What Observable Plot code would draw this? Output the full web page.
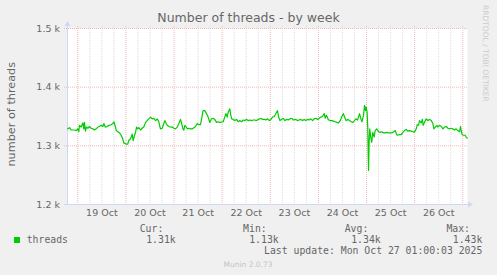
<!DOCTYPE html>
<html><head><meta charset="utf-8">
<script src="https://cdn.jsdelivr.net/npm/d3@7"></script>
<script src="https://cdn.jsdelivr.net/npm/@observablehq/plot@0.6"></script>
<style>
html,body{margin:0;padding:0;background:#f0f0f0;}
#chart svg{display:block;}
</style></head><body><div id="chart"></div>
<script>
const title = "Number of threads - by week";
const yLabel = "number of threads";
const seriesName = "threads";
// hours relative to 19 Oct 00:00
const hoursFrom19Oct = [-5.0,-4.1,-3.3,-1.6,-0.8,0,0.5,0.8,1.7,2.5,3.0,3.3,3.8,4.3,5.0,5.8,6.7,7.5,8.3,9.2,10.0,10.8,11.7,12.5,13.0,13.7,14.7,15.5,16.7,17.5,18.0,18.7,19.2,20.0,20.8,21.6,22.4,22.9,24.1,24.9,25.4,26.3,27.1,27.6,28.3,28.8,29.3,29.9,30.4,31.3,32.1,32.9,33.8,34.6,35.4,36.3,37.1,37.9,38.8,39.6,40.4,41.2,42.1,42.9,43.4,44.1,44.6,45.4,46.2,47.1,47.9,48.7,49.6,50.4,51.2,51.7,52.4,52.9,53.4,54.1,54.6,55.4,56.2,57.1,57.9,58.7,59.6,60.3,61.2,62.5,63.3,64.2,65.0,65.8,66.7,67.5,68.3,69.2,70.0,70.8,72.5,73.3,73.8,74.5,75.0,75.8,76.3,76.8,77.5,78.3,79.2,80.0,80.8,81.7,82.5,83.3,84.1,85.0,85.8,86.6,87.5,88.3,89.1,90.0,90.8,91.3,92.1,93.3,93.8,94.6,95.5,96.3,97.1,98.0,98.8,99.6,100.1,100.8,101.6,102.5,103.3,104.1,105.0,105.8,106.8,107.4,108.7,109.6,110.4,111.2,112.1,112.9,113.7,114.6,115.4,116.2,117.1,117.9,118.7,119.6,120.4,121.2,122.0,122.9,123.4,124.0,124.9,125.7,126.9,127.5,128.4,129.2,130.0,130.9,131.7,132.5,133.0,133.9,134.7,135.5,136.4,137.2,138.0,138.7,139.5,140.0,140.5,141.2,141.7,142.5,143.0,143.5,143.8,144.3,144.6,145.0,145.3,145.6,146.1,146.6,147.1,147.8,148.3,149.1,150.0,150.8,151.6,152.5,153.3,154.1,155.0,155.8,156.6,157.5,158.3,159.1,159.6,160.4,161.3,162.1,162.9,163.8,164.6,165.4,166.3,167.1,167.9,168.8,169.3,169.9,170.4,171.3,171.8,172.3,172.9,173.8,174.6,175.4,176.3,177.1,177.6,178.3,179.1,179.6,180.4,181.3,182.1,182.9,183.8,184.6,185.4,186.2,187.0,187.9,188.7,189.5,190.4,190.9,191.2,191.7,192.4,193.2,193.7,194.2];
const threads = [1329,1331,1327,1327,1326,1329,1324,1335,1332,1339,1329,1340,1325,1332,1330,1333,1330,1329,1327,1329,1332,1333,1335,1333,1338,1332,1333,1335,1336,1338,1341,1333,1326,1324,1322,1318,1312,1305,1303,1303,1309,1312,1320,1309,1318,1323,1332,1329,1331,1327,1330,1332,1340,1343,1346,1349,1346,1347,1343,1346,1341,1329,1330,1338,1343,1338,1335,1333,1332,1332,1330,1329,1332,1338,1345,1340,1329,1327,1335,1332,1329,1330,1329,1329,1331,1333,1338,1336,1336,1360,1360,1355,1349,1340,1346,1347,1345,1340,1341,1340,1341,1349,1355,1349,1357,1363,1352,1346,1345,1343,1345,1341,1343,1341,1344,1343,1345,1343,1344,1343,1344,1344,1343,1345,1346,1347,1345,1345,1344,1346,1343,1345,1349,1350,1355,1360,1350,1343,1345,1347,1343,1345,1344,1346,1347,1344,1345,1343,1344,1345,1343,1345,1343,1345,1344,1346,1343,1346,1347,1345,1347,1349,1350,1355,1347,1352,1345,1343,1343,1342,1341,1340,1339,1343,1350,1355,1349,1343,1345,1343,1341,1340,1343,1346,1344,1349,1355,1346,1341,1352,1369,1360,1366,1357,1332,1258,1306,1329,1315,1306,1323,1315,1326,1329,1324,1323,1324,1322,1322,1323,1322,1322,1322,1324,1326,1319,1318,1319,1319,1323,1326,1328,1325,1326,1325,1324,1323,1329,1336,1335,1343,1339,1345,1335,1340,1346,1343,1345,1343,1338,1329,1332,1335,1332,1335,1333,1329,1332,1333,1330,1329,1330,1329,1327,1329,1326,1324,1333,1326,1319,1318,1318,1315,1313];
const yTicks = [1200, 1300, 1400, 1500];
const yTickLabels = ["1.2 k", "1.3 k", "1.4 k", "1.5 k"];
const dayLabels = ["19 Oct", "20 Oct", "21 Oct", "22 Oct", "23 Oct", "24 Oct", "25 Oct", "26 Oct"];
const statHeaders = ["Cur:", "Min:", "Avg:", "Max:"];
const statValues = ["1.31k", "1.13k", "1.34k", "1.43k"];
const lastUpdate = "Last update: Mon Oct 27 01:00:03 2025";
const credit = "Munin 2.0.73";
const watermark = "RRDTOOL / TOBI OETIKER";
const domainHours = [-5.14, 194.36];

const H = 3600e3;
const base = Date.UTC(2025, 9, 19);
const toDate = h => new Date(base + h * H);
const data = hoursFrom19Oct.map((h, i) => ({date: toDate(h), value: threads[i]}));
const x0 = toDate(domainHours[0]), x1 = toDate(domainHours[1]);
const sixHours = d3.utcHour.every(6).range(x0, x1);
const minor = sixHours.filter(d => d.getUTCHours() !== 0);
const major = sixHours.filter(d => d.getUTCHours() === 0);
const noons = dayLabels.map((_, i) => new Date(base + (i * 24 + 12) * H));

const AXIS = "#cfd6f8", MGRID = "#f2b6b6", GRID = "#dcdcdc", TXT = "#666";

const chart = Plot.plot({
  width: 497, height: 275,
  marginLeft: 67, marginRight: 30, marginTop: 28, marginBottom: 71,
  style: {background: "#f0f0f0", fontFamily: "DejaVu Sans", fontSize: "9.5px", color: TXT},
  x: {type: "utc", domain: [x0, x1]},
  y: {domain: [1200, 1500]},
  marks: [
    Plot.frame({fill: "white", stroke: "none"}),
    Plot.ruleX(minor, {stroke: GRID, strokeDasharray: "1,1", insetTop: -2, insetBottom: -2}),
    Plot.ruleX(major, {stroke: MGRID, strokeDasharray: "1,1", insetTop: -2, insetBottom: -2}),
    Plot.ruleY(yTicks.slice(1), {stroke: MGRID, strokeDasharray: "1,1", insetLeft: -3, insetRight: -1}),
    Plot.ruleY([1200], {stroke: AXIS, insetLeft: -3, insetRight: -1}),
    Plot.ruleX([x0], {stroke: AXIS, insetTop: -2, insetBottom: -1}),
    Plot.line(data, {x: "date", y: "value", stroke: "#00cc00", strokeWidth: 1.2}),
    Plot.axisY({ticks: yTicks, tickFormat: d => yTickLabels[yTicks.indexOf(d)], tickSize: 0, tickPadding: 7.5, label: null}),
    Plot.axisX({ticks: noons, tickFormat: d => dayLabels[noons.findIndex(n => +n === +d)], tickSize: 0, tickPadding: 5, label: null})
  ]
});
document.getElementById("chart").appendChild(chart);

const svg = d3.select(chart);
const sx = chart.scale("x"), sy = chart.scale("y");
const L = Math.round(sx.apply(x0)), R = Math.round(sx.apply(x1));
const T = Math.round(sy.apply(1500)), B = Math.round(sy.apply(1200));
// arrow heads
svg.append("polygon").attr("fill", AXIS)
  .attr("points", `${L + 0.5},${T - 7} ${L - 2.5},${T - 2} ${L + 3.5},${T - 2}`);
svg.append("polygon").attr("fill", AXIS)
  .attr("points", `${R + 6},${B + 0.5} ${R + 1},${B - 2.5} ${R + 1},${B + 3.5}`);

const txt = (s, x, y, o = {}) => {
  const t = svg.append("text").text(s).attr("x", x).attr("y", y)
    .attr("fill", o.fill || TXT)
    .attr("font-family", o.family || "DejaVu Sans")
    .attr("font-size", o.size || 10)
    .attr("text-anchor", o.anchor || "start");
  if (o.transform) t.attr("transform", o.transform).attr("x", 0).attr("y", 0);
  return t;
};
txt(title, 248.5, 22.4, {size: 12.5, anchor: "middle"});
txt(yLabel, 0, 0, {size: 11.25, anchor: "middle", transform: "translate(15,114.2) rotate(-90)"});
txt(watermark, 0, 0, {size: 7.5, fill: "#cccccc", transform: "translate(483,5) rotate(90)"});

const MONO = "DejaVu Sans Mono";
svg.append("rect").attr("x", 14).attr("y", 237).attr("width", 6).attr("height", 6).attr("fill", "#00cc00");
txt(seriesName, 26.7, 243.3, {family: MONO, size: 9.8});
const headEnds = [163.3, 266.7, 368.3, 470];
const valEnds = [175.7, 278.7, 380.7, 482.3];
statHeaders.forEach((s, i) => txt(s, headEnds[i], 232, {family: MONO, size: 9.8, anchor: "end"}));
statValues.forEach((s, i) => txt(s, valEnds[i], 243.3, {family: MONO, size: 9.8, anchor: "end"}));
txt(lastUpdate, 482.3, 254.4, {family: MONO, size: 9.8, anchor: "end"});
txt(credit, 248, 266.5, {size: 7.5, anchor: "middle", fill: "#c4c4c4"});
</script>
</body></html>
